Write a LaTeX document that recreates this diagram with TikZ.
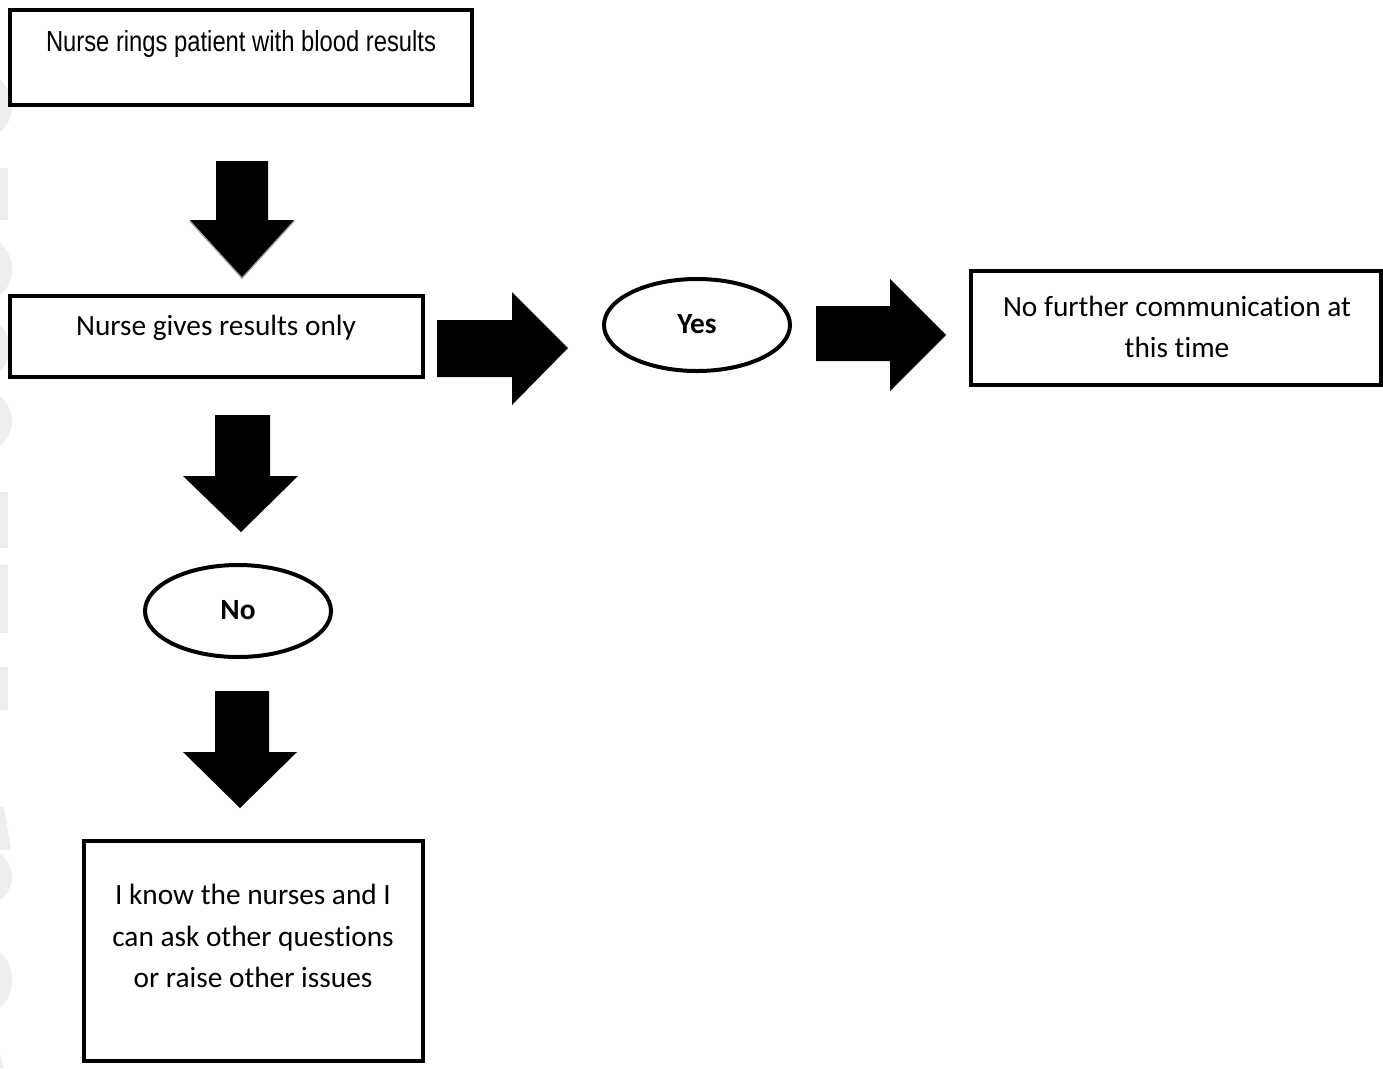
\documentclass[tikz,border=0pt]{standalone}
\usepackage{fontspec}
\setmainfont[Ligatures=NoCommon]{Carlito}
\newfontfamily\arialn[FakeStretch=0.82]{Liberation Sans}
\usetikzlibrary{shapes.geometric,fit}
\begin{document}
\begin{tikzpicture}[x=0.75pt,y=-0.75pt,
  box/.style={draw,line width=3pt,inner sep=0pt},
  oval/.style={draw,ellipse,line width=3pt,inner sep=0pt,minimum width=139.5pt,minimum height=69pt},
  txt/.style={font=\fontsize{22}{31}\selectfont,align=center,inner sep=0pt},
  boldtxt/.style={font=\fontsize{22}{31}\selectfont\bfseries,inner sep=0pt},
  blk/.style={fill=black},
  shade/.style={draw=gray!70,line width=1.2pt},
  wm/.style={fill=gray!13}]
\useasboundingbox (0,0) rectangle (1383,1068);
% watermark fragments at the left edge
\begin{scope}
\clip (0,0) rectangle (1383,1068);
\fill[wm] (-14,106) ellipse (26 and 31);
\fill[wm] (0,168) rectangle (8,220);
\fill[wm] (-14,269) ellipse (26 and 31);
\fill[wm] (-14,348) ellipse (24 and 28);
\fill[wm] (-14,421) ellipse (26 and 29);
\fill[wm] (0,492) rectangle (8,548);
\fill[wm] (0,565) rectangle (8,633);
\fill[wm] (0,667) rectangle (8,710);
\fill[wm] (0,807) -- (4,807) -- (11,850) -- (0,850) -- cycle;
\fill[wm] (-14,877) ellipse (26 and 27);
\fill[wm] (-14,980) ellipse (26 and 33);
\fill[wm] (0,1055) -- (4,1068) -- (0,1068) -- cycle;
\end{scope}
% boxes
\node[box,fit={(10,10)(472,105)}] (b1) {};
\node[box,fit={(10,296)(423,377)}] (b2) {};
\node[box,fit={(971,271)(1381,385)}] (b3) {};
\node[box,fit={(84,841)(423,1061)}] (b4) {};
\node[oval] (yes) at (697,325) {};
\node[oval] (no) at (238,611) {};
% texts
\node[inner sep=0pt,font=\fontsize{21.75}{26}\selectfont] (t1) at (241,44) {\arialn Nurse rings patient with blood results};
\node[txt] (t2) at (216,328) {Nurse gives results only};
\node[txt] (t3) at (1177,327) {No further communication at\\this time};
\node[txt] (t4) at (253,936) {I know the nurses and I\\can ask other questions\\or raise other issues};
\node[boldtxt] (ty) at (697,324) {Yes};
\node[boldtxt] (tn) at (238,610) {No};
% block arrows
\draw[shade] (190,221) -- (242,278) -- (294,221);
\fill[blk] (216,161) -- (268,161) -- (268,220) -- (294,220) -- (242,277) -- (190,220) -- (216,220) -- cycle;
\fill[blk] (215,415) -- (270,415) -- (270,476) -- (298,476) -- (241,532) -- (183,476) -- (215,476) -- cycle;
\fill[blk] (215,691) -- (269,691) -- (269,752) -- (297,752) -- (240,808) -- (183,752) -- (215,752) -- cycle;
\fill[blk] (437,320) -- (512,320) -- (512,292) -- (568,348) -- (512,405) -- (512,377) -- (437,377) -- cycle;
\fill[blk] (816,306) -- (890,306) -- (890,279) -- (946,335) -- (890,391) -- (890,361) -- (816,361) -- cycle;
\end{tikzpicture}
\end{document}
